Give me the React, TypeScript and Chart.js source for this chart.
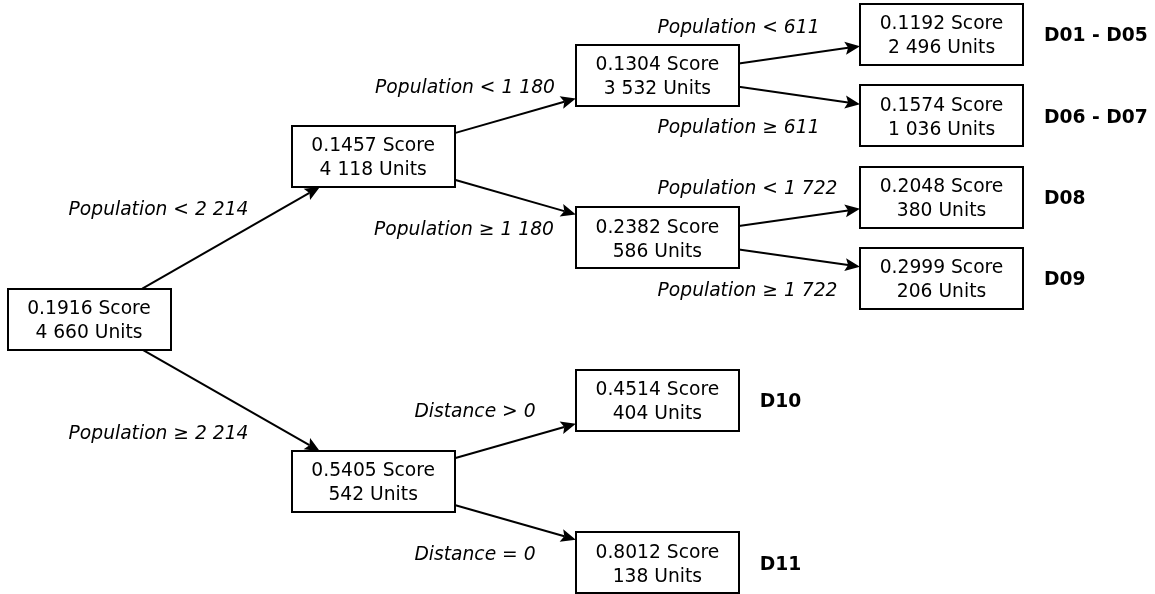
import React, { useEffect, useRef } from "react";
import { Chart, registerables } from "chart.js";

Chart.register(...registerables);

// ---- data ----
const nodeScores = [0.1916, 0.1457, 0.5405, 0.1304, 0.2382, 0.4514, 0.8012, 0.1192, 0.1574, 0.2048, 0.2999];
const nodeUnits = ["4 660", "4 118", "542", "3 532", "586", "404", "138", "2 496", "1 036", "380", "206"];
const nodeDepth = [0, 1, 1, 2, 2, 2, 2, 3, 3, 3, 3];
const nodeRow = [3.5, 1.5, 5.5, 0.5, 2.5, 4.5, 6.5, 0, 1, 2, 3];
const nodeGroup = ["", "", "", "", "", "D10", "D11", "D01 - D05", "D06 - D07", "D08", "D09"];

const edgeFrom = [0, 0, 1, 1, 2, 2, 3, 3, 4, 4];
const edgeTo = [1, 2, 3, 4, 5, 6, 7, 8, 9, 10];
const edgeLabels = [
  "Population < 2 214",
  "Population ≥ 2 214",
  "Population < 1 180",
  "Population ≥ 1 180",
  "Distance > 0",
  "Distance = 0",
  "Population < 611",
  "Population ≥ 611",
  "Population < 1 722",
  "Population ≥ 1 722",
];
const edgeLabelDepth = [0.2446, 0.2446, 1.3232, 1.3196, 1.3583, 1.3583, 2.2856, 2.2856, 2.3173, 2.3173];
const edgeLabelRow = [2.134, 4.886, 0.633, 2.384, 4.627, 6.381, -0.1046, 1.134, 1.879, 3.134];

// ---- styles ----
const FONT = '"DejaVu Sans", "Noto Sans", sans-serif';
const FONT_SIZE = 18.7;
const BOX_W = 163;
const BOX_H = 61;
const CAP_HALF = 6.8;

const treePlugin = {
  id: "treePlugin",
  afterDraw(chart: any) {
    const ctx: CanvasRenderingContext2D = chart.ctx;
    const xs = chart.scales.x;
    const ys = chart.scales.y;
    const px = (d: number) => xs.getPixelForValue(d);
    const py = (r: number) => ys.getPixelForValue(r);
    const hw = BOX_W / 2;
    const hh = BOX_H / 2;

    const clip = (cx: number, cy: number, ux: number, uy: number) => {
      const tx = Math.abs(ux) > 1e-9 ? hw / Math.abs(ux) : Infinity;
      const ty = Math.abs(uy) > 1e-9 ? hh / Math.abs(uy) : Infinity;
      const t = Math.min(tx, ty);
      return [cx + ux * t, cy + uy * t];
    };

    ctx.save();
    // edges
    ctx.strokeStyle = "#000";
    ctx.fillStyle = "#000";
    ctx.lineWidth = 2;
    for (let i = 0; i < edgeFrom.length; i++) {
      const a = edgeFrom[i];
      const b = edgeTo[i];
      const ax = px(nodeDepth[a]);
      const ay = py(nodeRow[a]);
      const bx = px(nodeDepth[b]);
      const by = py(nodeRow[b]);
      const len = Math.hypot(bx - ax, by - ay);
      const ux = (bx - ax) / len;
      const uy = (by - ay) / len;
      const [sx, sy] = clip(ax, ay, ux, uy);
      const [ex, ey] = clip(bx, by, -ux, -uy);
      const headLen = 15;
      const headHalf = 6.5;
      const notch = 3;
      const baseX = ex - ux * headLen;
      const baseY = ey - uy * headLen;
      ctx.beginPath();
      ctx.moveTo(sx, sy);
      ctx.lineTo(baseX + ux * notch, baseY + uy * notch);
      ctx.stroke();
      ctx.beginPath();
      ctx.moveTo(ex, ey);
      ctx.lineTo(baseX - uy * headHalf, baseY + ux * headHalf);
      ctx.lineTo(baseX + ux * notch, baseY + uy * notch);
      ctx.lineTo(baseX + uy * headHalf, baseY - ux * headHalf);
      ctx.closePath();
      ctx.fill();

      // edge label
      ctx.font = `italic ${FONT_SIZE}px ${FONT}`;
      ctx.textAlign = "center";
      ctx.textBaseline = "alphabetic";
      ctx.fillText(edgeLabels[i], px(edgeLabelDepth[i]), py(edgeLabelRow[i]) + CAP_HALF);
    }

    // nodes
    for (let i = 0; i < nodeScores.length; i++) {
      const cx = px(nodeDepth[i]);
      const cy = py(nodeRow[i]);
      ctx.fillStyle = "#fff";
      ctx.fillRect(cx - hw, cy - hh, BOX_W, BOX_H);
      ctx.strokeStyle = "#000";
      ctx.lineWidth = 2;
      ctx.strokeRect(Math.round(cx - hw), Math.round(cy - hh), BOX_W, BOX_H);
      ctx.fillStyle = "#000";
      ctx.font = `${FONT_SIZE}px ${FONT}`;
      ctx.textAlign = "center";
      ctx.textBaseline = "alphabetic";
      ctx.fillText(`${nodeScores[i].toFixed(4)} Score`, cx, cy - 12 + CAP_HALF);
      ctx.fillText(`${nodeUnits[i]} Units`, cx, cy + 12 + CAP_HALF);
      if (nodeGroup[i]) {
        ctx.font = `bold ${FONT_SIZE}px ${FONT}`;
        ctx.textAlign = "left";
        ctx.fillText(nodeGroup[i], cx + hw + 21, cy + CAP_HALF);
      }
    }
    ctx.restore();
  },
};

export default function App() {
  const ref = useRef<HTMLCanvasElement | null>(null);
  useEffect(() => {
    if (!ref.current) return;
    const chart = new Chart(ref.current, {
      type: "scatter",
      data: {
        datasets: [
          {
            label: "nodes",
            data: nodeDepth.map((d, i) => ({ x: d, y: nodeRow[i] })),
            pointRadius: 0,
            pointHoverRadius: 0,
          },
        ],
      },
      options: {
        responsive: false,
        animation: false,
        devicePixelRatio: 1,
        layout: { padding: 0 },
        plugins: { legend: { display: false }, tooltip: { enabled: false } },
        events: [],
        scales: {
          x: { type: "linear", display: false, min: -89 / 284.17, max: (1155 - 89) / 284.17 },
          y: { type: "linear", display: false, reverse: true, min: -34.5 / 81.3, max: (594 - 34.5) / 81.3 },
        },
      },
      plugins: [treePlugin],
    });
    return () => chart.destroy();
  }, []);
  return (
    <div style={{ position: "absolute", left: 0, top: 0, width: 1155, height: 594, background: "#fff" }}>
      <canvas ref={ref} width={1155} height={594} style={{ display: "block" }} />
    </div>
  );
}
